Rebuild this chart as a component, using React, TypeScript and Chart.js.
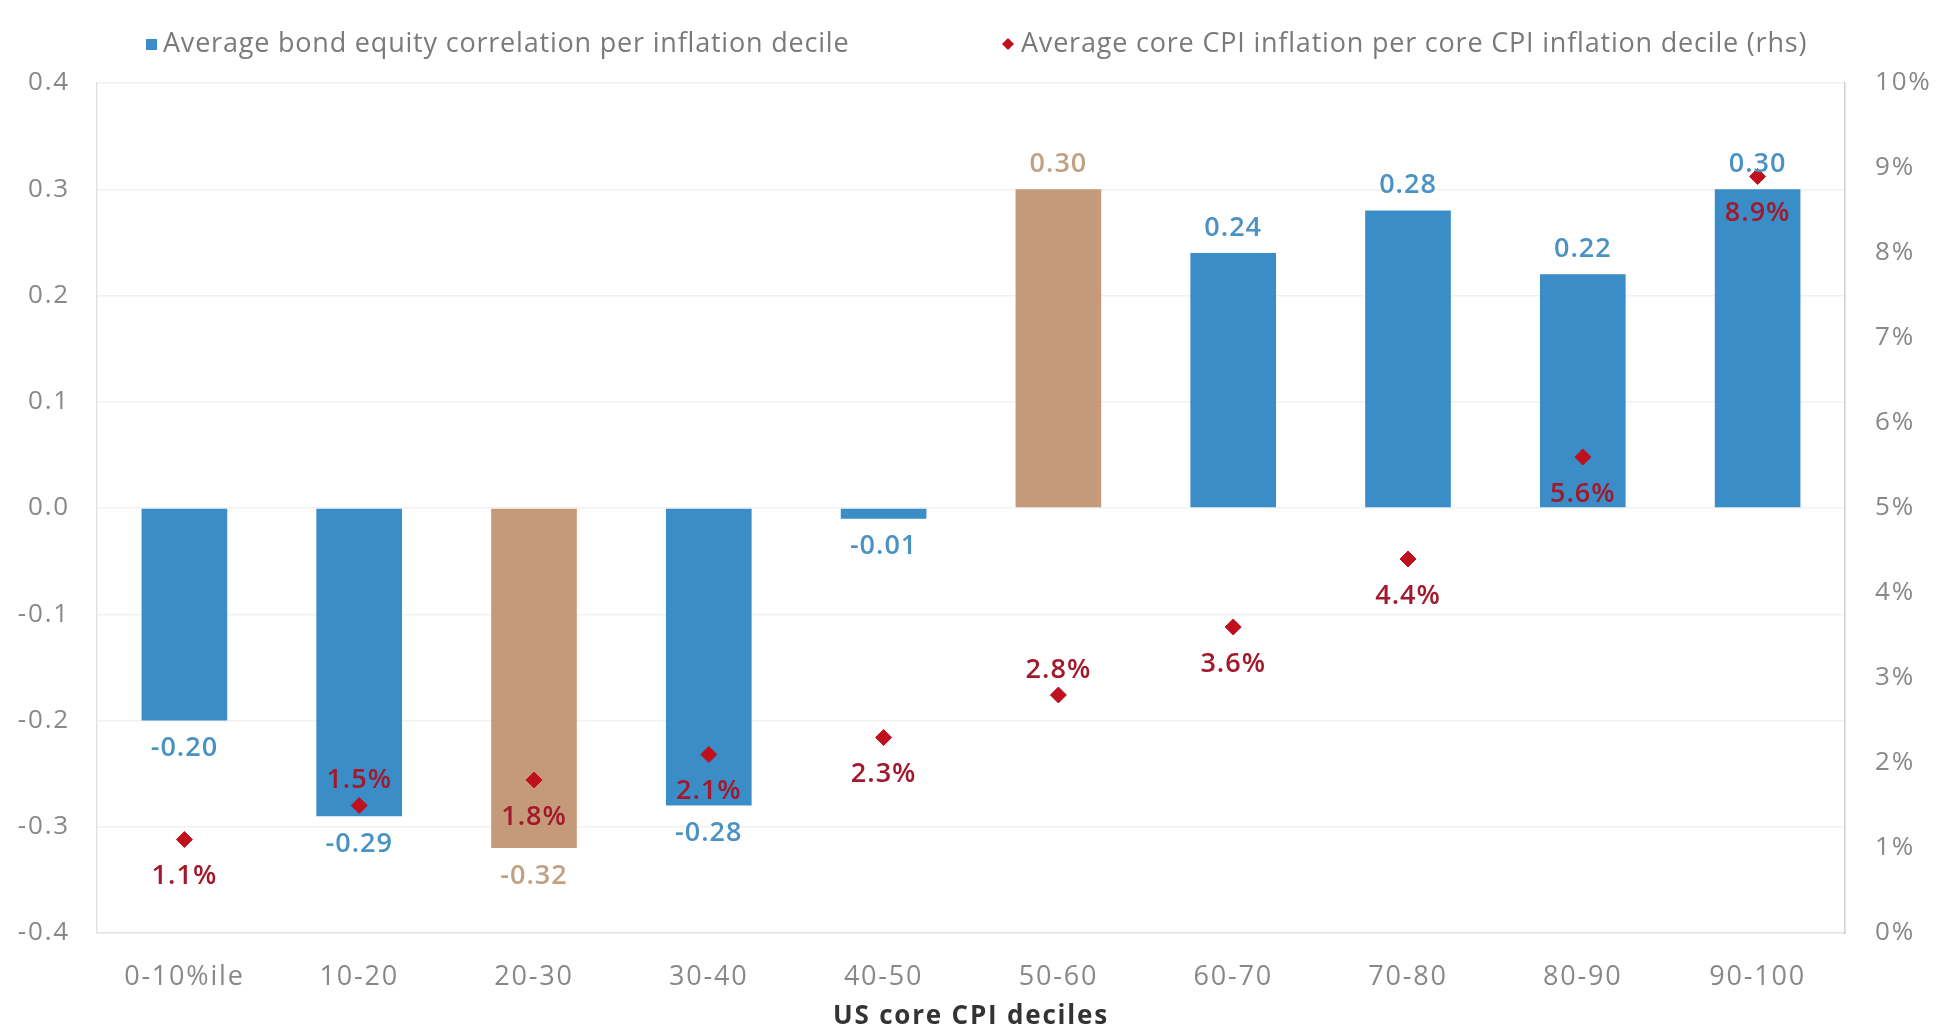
import React, { useEffect, useRef } from "react";
import { Chart, registerables } from "chart.js";

Chart.register(...registerables);

// Deciles of US core CPI inflation
const deciles = ["0-10%ile", "10-20", "20-30", "30-40", "40-50", "50-60", "60-70", "70-80", "80-90", "90-100"];
// Average bond/equity correlation in each decile (left axis)
const correlation = [-0.2, -0.29, -0.32, -0.28, -0.01, 0.3, 0.24, 0.28, 0.22, 0.3];
// Average core CPI inflation in each decile, % (right axis)
const coreCpi = [1.1, 1.5, 1.8, 2.1, 2.3, 2.8, 3.6, 4.4, 5.6, 8.9];
// Deciles whose bar is drawn in the accent colour
const accentDecile = [false, false, true, false, false, true, false, false, false, false];
// Inflation labels placed above their marker rather than below
const cpiLabelAbove = [false, true, false, false, false, true, false, false, false, false];

const seriesNames = [
  "Average bond equity correlation per inflation decile",
  "Average core CPI inflation per core CPI inflation decile (rhs)",
];

const FONT = "'Open Sans', 'Noto Sans', sans-serif";
const BLUE = "#3a8dc7";
const TAN = "#c49a7a";
const BLUE_LABEL = "#4a92c4";
const TAN_LABEL = "#c2a084";
const RED = "#c0101e";
const RED_LABEL = "#a3192b";
const TICK_SPACING = "1.8px";

// Axis text is set slightly tracked out; the canvas state is reset on resize,
// so apply it before both layout and drawing.
const tracking = {
  id: "tracking",
  beforeLayout(chart: any) {
    chart.ctx.letterSpacing = TICK_SPACING;
  },
  beforeDraw(chart: any) {
    chart.ctx.letterSpacing = TICK_SPACING;
  },
};

const valueLabels = {
  id: "valueLabels",
  afterDatasetsDraw(chart: any) {
    const { ctx } = chart;
    ctx.save();
    ctx.letterSpacing = "1px";
    ctx.textAlign = "center";
    ctx.textBaseline = "middle";
    ctx.font = `600 27px ${FONT}`;
    chart.getDatasetMeta(0).data.forEach((el: any, i: number) => {
      const v = correlation[i];
      ctx.fillStyle = accentDecile[i] ? TAN_LABEL : BLUE_LABEL;
      ctx.fillText(v.toFixed(2), el.x, v >= 0 ? el.y - 25 : el.y + 28);
    });
    chart.getDatasetMeta(1).data.forEach((el: any, i: number) => {
      ctx.fillStyle = RED_LABEL;
      ctx.fillText(coreCpi[i].toFixed(1) + "%", el.x, cpiLabelAbove[i] ? el.y - 25 : el.y + 37);
    });
    ctx.restore();
  },
};

const topLegend = {
  id: "topLegend",
  afterDraw(chart: any) {
    const { ctx, chartArea } = chart;
    const y = chartArea.top - 39;
    ctx.save();
    ctx.letterSpacing = "0.8px";
    ctx.font = `400 27px ${FONT}`;
    ctx.textBaseline = "middle";
    ctx.textAlign = "left";
    // bar series: small square
    const x1 = chartArea.left + 54;
    ctx.fillStyle = BLUE;
    ctx.fillRect(x1 - 5, y - 5, 11, 11);
    ctx.fillStyle = "#7a7a7a";
    ctx.fillText(chart.data.datasets[0].label, x1 + 12, y);
    // inflation series: small diamond
    const x2 = chartArea.left + 911;
    ctx.fillStyle = RED;
    ctx.beginPath();
    ctx.moveTo(x2, y - 6);
    ctx.lineTo(x2 + 6, y);
    ctx.lineTo(x2, y + 6);
    ctx.lineTo(x2 - 6, y);
    ctx.closePath();
    ctx.fill();
    ctx.fillStyle = "#7a7a7a";
    ctx.fillText(chart.data.datasets[1].label, x2 + 13, y);
    ctx.restore();
  },
};

export default function App() {
  const canvasRef = useRef<HTMLCanvasElement>(null);

  useEffect(() => {
    if (!canvasRef.current) return;
    const chart = new Chart(canvasRef.current, {
      type: "bar",
      data: {
        labels: deciles,
        datasets: [
          {
            type: "bar",
            label: seriesNames[0],
            data: correlation,
            yAxisID: "y",
            backgroundColor: accentDecile.map((a) => (a ? TAN : BLUE)),
            barPercentage: 0.49,
            categoryPercentage: 1,
            order: 1,
          },
          {
            type: "line",
            label: seriesNames[1],
            data: coreCpi,
            yAxisID: "y1",
            showLine: false,
            pointStyle: "rectRot",
            pointRadius: 8,
            pointBackgroundColor: RED,
            pointBorderColor: RED,
            order: 0,
          } as any,
        ],
      },
      options: {
        animation: false,
        responsive: true,
        maintainAspectRatio: false,
        layout: { padding: { top: 75, left: 0, right: 0, bottom: 0 } },
        plugins: { legend: { display: false }, tooltip: { enabled: false } },
        scales: {
          x: {
            grid: { display: false },
            border: { color: "#e4e4e4", width: 1.5 },
            ticks: { color: "#888", font: { family: FONT, size: 27 }, padding: 20 },
            title: {
              display: true,
              text: "US core CPI deciles",
              color: "#333",
              font: { family: FONT, size: 26, weight: "bold", lineHeight: 1 },
              padding: { top: 4, bottom: -6 },
            },
            afterFit: (s: any) => {
              s.height = 91;
            },
          },
          y: {
            position: "left",
            min: -0.4,
            max: 0.4,
            ticks: {
              stepSize: 0.1,
              color: "#888",
              font: { family: FONT, size: 26 },
              padding: 27,
              callback: (v: any) => Number(v).toFixed(1),
            },
            grid: { color: "#f1f1f1", lineWidth: 1.5, drawTicks: false },
            border: { color: "#e2e2e2", width: 1.5 },
            afterFit: (s: any) => {
              s.width = 89;
            },
          },
          y1: {
            position: "right",
            min: 0,
            max: 10,
            ticks: {
              stepSize: 1,
              color: "#888",
              font: { family: FONT, size: 26 },
              padding: 30,
              callback: (v: any) => v + "%",
            },
            grid: { display: false, drawTicks: false },
            border: { color: "#cfcfcf", width: 1.5 },
            afterFit: (s: any) => {
              s.width = 86;
            },
          },
        },
      },
      plugins: [tracking, valueLabels, topLegend],
    });
    return () => chart.destroy();
  }, []);

  return (
    <div style={{ width: 1923, height: 1016, position: "relative" }}>
      <canvas ref={canvasRef} />
    </div>
  );
}
